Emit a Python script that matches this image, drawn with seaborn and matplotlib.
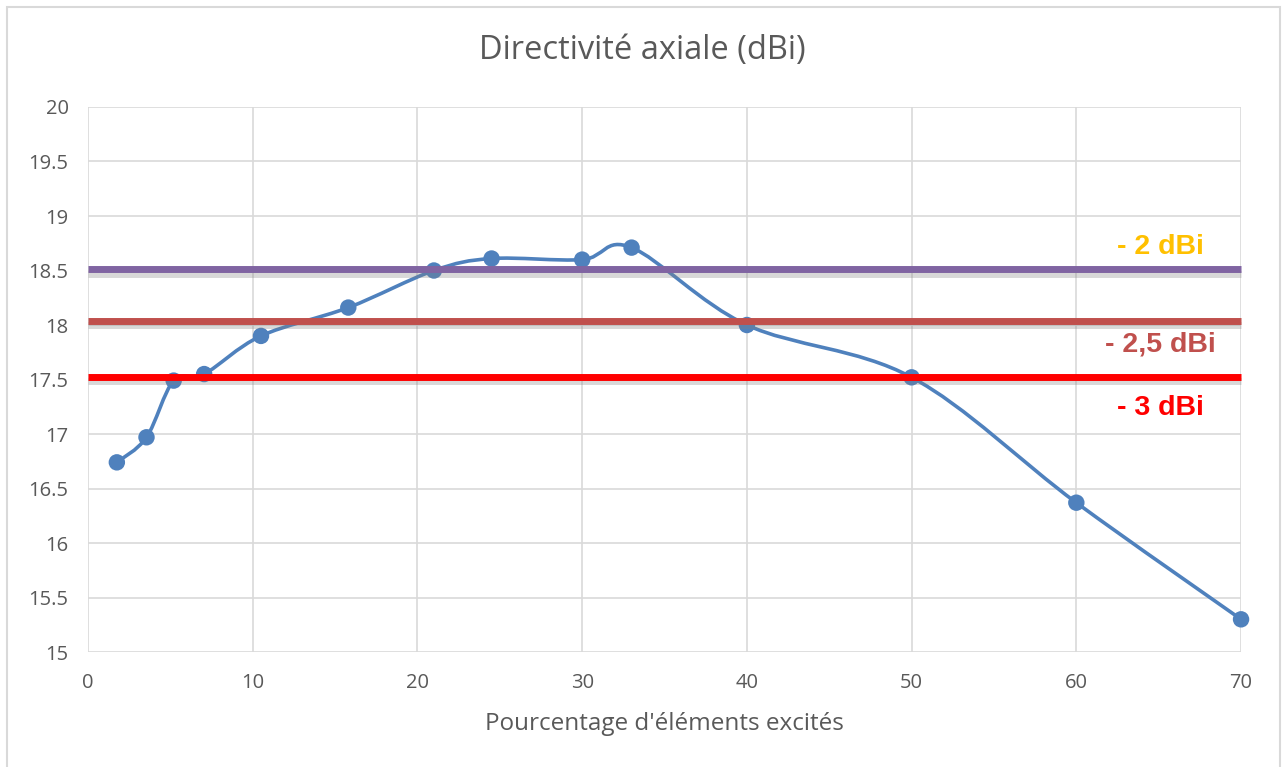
import numpy as np
import pandas as pd
import matplotlib
matplotlib.use("Agg")
import matplotlib.pyplot as plt
import matplotlib.patheffects as pe
from matplotlib.path import Path
from matplotlib.patches import PathPatch, Rectangle
import seaborn as sns

# data
pct = [1.75, 3.55, 5.2, 7.05, 10.5, 15.8, 21.0, 24.5, 30.0, 33.0, 40.0, 50.0, 60.0, 70.0]
directivity = [16.74, 16.97, 17.49, 17.55, 17.90, 18.16, 18.50, 18.61, 18.60, 18.71, 18.00, 17.52, 16.37, 15.30]
thresh_vals = [18.51, 18.04, 17.52]
thresh_labels = ["- 2 dBi", "- 2,5 dBi", "- 3 dBi"]
thresh_colors = ["#8064A2", "#C0504D", "#FF0000"]
label_colors = ["#FFC000", "#C0504D", "#FF0000"]
label_y = [18.72, 17.82, 17.24]

df = pd.DataFrame({"pct": pct, "dir": directivity})

sns.set_style("white")
plt.rcParams["font.family"] = ["Open Sans", "DejaVu Sans"]

fig = plt.figure(figsize=(12.85, 7.67), dpi=100)
ax = fig.add_axes([0.0685, 0.1499, 0.8973, 0.7106])

# chart area border
fig.patches.append(Rectangle((0.0054, -0.05), 0.9907, 1.0409, transform=fig.transFigure,
                             fill=False, edgecolor="#D9D9D9", linewidth=1.5))

ax.set_xlim(0, 70)
ax.set_ylim(15, 20)
ax.set_xticks(range(0, 71, 10))
ax.set_yticks(np.arange(15, 20.01, 0.5))
ax.set_yticklabels([f"{v:g}" for v in np.arange(15, 20.01, 0.5)])
ax.grid(True, color="#D9D9D9", linewidth=1.2)
for s in ax.spines.values():
    s.set_visible(False)
ax.tick_params(length=0, labelsize=14.5, labelcolor="#595959")
ax.tick_params(axis="x", pad=15)
ax.tick_params(axis="y", pad=14)

# smoothed curve (Excel-style bezier through the points)
pts = df[["pct", "dir"]].to_numpy()
verts = [pts[0]]
codes = [Path.MOVETO]
n = len(pts)
for i in range(n - 1):
    p0 = pts[max(i - 1, 0)]
    p1 = pts[i]
    p2 = pts[i + 1]
    p3 = pts[min(i + 2, n - 1)]
    c1 = p1 + (p2 - p0) / 6
    c2 = p2 - (p3 - p1) / 6
    verts += [c1, c2, p2]
    codes += [Path.CURVE4] * 3
curve = PathPatch(Path(verts, codes), fill=False, edgecolor="#4F81BD", linewidth=2.6,
                  capstyle="round", zorder=3)
ax.add_patch(curve)

sns.scatterplot(data=df, x="pct", y="dir", ax=ax, color="#4F81BD", s=140,
                edgecolor="none", zorder=4, clip_on=False)

shadow = [pe.SimpleLineShadow(offset=(0, -3), shadow_color="#808080", alpha=0.3), pe.Normal()]
for v, c in zip(thresh_vals, thresh_colors):
    ax.plot([0, 70], [v, v], color=c, linewidth=5, solid_capstyle="butt",
            zorder=5, path_effects=shadow, clip_on=False)

for txt, c, y in zip(thresh_labels, label_colors, label_y):
    ax.text(65.1, y, txt, color=c, fontsize=20.5, fontweight="bold",
            family=["Liberation Sans", "DejaVu Sans"], ha="center", va="center", zorder=6)

ax.set_xlabel("Pourcentage d'éléments excités", fontsize=17.5, color="#595959", labelpad=14)
ax.set_ylabel("")
fig.text(0.5, 0.934, "Directivité axiale (dBi)", ha="center", va="center",
         fontsize=23.5, color="#595959")

fig.savefig("out.png", dpi=100)
